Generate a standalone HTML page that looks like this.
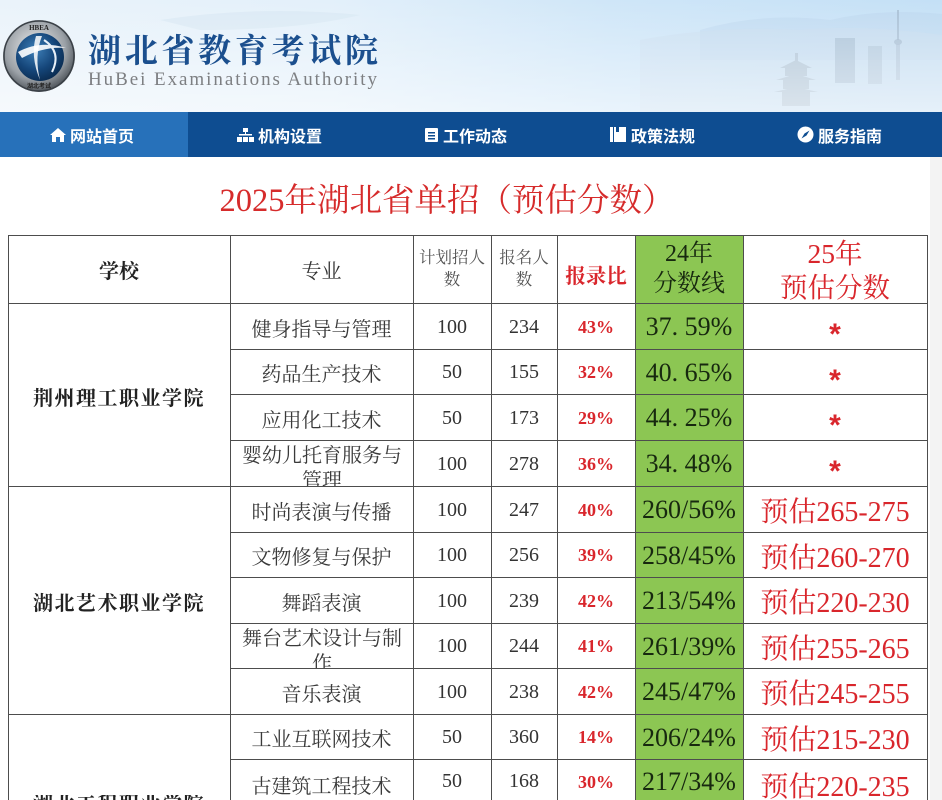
<!DOCTYPE html>
<html><head><meta charset="utf-8">
<style>
*{margin:0;padding:0;box-sizing:border-box}
html{width:942px;height:800px;overflow:hidden}
body{width:942px;height:800px;overflow:hidden;background:#fff;position:relative;font-family:"Liberation Serif","Noto Serif CJK SC",serif}
.hdr{position:absolute;left:0;top:0;width:942px;height:112px;background:linear-gradient(90deg,#eaf3fa 0%,#e3f0fa 35%,#cfe6f8 65%,#c4e0f6 100%)}
.nav{position:absolute;left:0;top:112px;width:942px;height:45px;background:#0e4d91}
.nav .t1{position:absolute;left:0;top:0;width:188px;height:45px;background:#2771ba}
.ni{position:absolute;top:0;height:45px;display:flex;align-items:center;color:#fff;font:bold 16px "Noto Sans CJK SC",sans-serif;letter-spacing:0px}
.ni svg{margin-right:4px}
.c{position:absolute;display:flex;align-items:center;justify-content:center;text-align:center;white-space:nowrap}
.vl{position:absolute;width:1px;background:#4d4d4d}
.hl{position:absolute;height:1px;background:#4d4d4d}
.maj{font-size:20px;color:#3a3a3a;font-family:"Liberation Serif","Noto Serif CJK SC",serif}
.num{font-size:20px;color:#333;font-family:"Liberation Serif",serif}
.pct{font-size:18px;color:#d9262c;font-weight:bold;font-family:"Liberation Serif",serif}
.g{font-size:26px;color:#17280f;font-family:"Liberation Serif",serif}
.est{font-size:28px;color:#d9262c;font-family:"Liberation Serif","Noto Serif CJK SC",serif}
.ast{font-size:30px;color:#d9262c;font-weight:bold;font-family:"Liberation Sans",sans-serif;position:relative;top:9px;line-height:30px}
.sch{font-size:20px;font-weight:bold;color:#222;letter-spacing:1.5px;font-family:"Liberation Serif","Noto Serif CJK SC",serif}
</style></head><body>

<div class="hdr">
<svg width="942" height="112" style="position:absolute;left:0;top:0">
<defs>
<linearGradient id="fade" x1="0" y1="0" x2="0" y2="1"><stop offset="0" stop-color="#fff" stop-opacity="0"/><stop offset="1" stop-color="#fff" stop-opacity="0.55"/></linearGradient>
<radialGradient id="ring" cx="0.45" cy="0.4" r="0.6"><stop offset="0" stop-color="#f2f2f2"/><stop offset="0.7" stop-color="#9aa0a6"/><stop offset="1" stop-color="#50565c"/></radialGradient>
<radialGradient id="glb" cx="0.4" cy="0.35" r="0.7"><stop offset="0" stop-color="#3d7fb8"/><stop offset="0.6" stop-color="#15467a"/><stop offset="1" stop-color="#0a2a4e"/></radialGradient>
</defs>
<path d="M160 20 Q260 5 360 15 Q300 30 200 30Z" fill="#d6e6f2" opacity="0.6"/>
<path d="M700 30 Q760 12 830 20 Q880 8 942 14 L942 60 L700 60Z" fill="#b8d3ea" opacity="0.45"/>
<path d="M640 40 Q720 25 800 30 Q860 24 942 35 L942 112 L640 112Z" fill="#c8dced" opacity="0.5"/>
<g fill="#a9bdcf" opacity="0.75">
<rect x="795" y="53" width="3" height="10"/>
<path d="M780 68 L796 60 L812 68Z"/>
<rect x="785" y="68" width="22" height="8"/>
<path d="M776 80 L796 74 L816 80Z"/>
<rect x="783" y="80" width="26" height="9"/>
<path d="M774 92 L796 87 L818 92Z"/>
<rect x="782" y="92" width="28" height="14"/>
</g>
<rect x="835" y="38" width="20" height="45" fill="#9fb6cc" opacity="0.6"/>
<rect x="868" y="46" width="14" height="38" fill="#a8bdd2" opacity="0.55"/>
<rect x="897" y="10" width="2" height="30" fill="#9fb6cc" opacity="0.7"/>
<ellipse cx="898" cy="42" rx="4" ry="3" fill="#9fb6cc" opacity="0.7"/>
<rect x="896" y="44" width="4" height="36" fill="#a8bdd2" opacity="0.6"/>
<rect x="0" y="0" width="942" height="112" fill="url(#fade)"/>
<circle cx="39" cy="56" r="36" fill="url(#ring)"/>
<circle cx="39" cy="56" r="35" fill="none" stroke="#3a4046" stroke-width="1.5"/>
<circle cx="40" cy="57" r="24" fill="url(#glb)"/>
<path d="M18 52 Q40 40 66 48 Q44 46 22 58Z" fill="#fff" opacity="0.9"/>
<path d="M36 36 Q30 56 40 80 Q34 56 42 36Z" fill="#fff" opacity="0.85"/>
<path d="M44 40 Q62 52 52 72" stroke="#e8f0f8" stroke-width="2" fill="none"/>
<text x="39" y="30" font-family="Liberation Serif" font-size="7" font-weight="bold" fill="#222" text-anchor="middle">HBEA</text>
<text x="39" y="88" font-family="Noto Sans CJK SC" font-size="6" font-weight="bold" fill="#222" text-anchor="middle">湖北考试</text>
<text x="88" y="62" font-family="Noto Serif CJK SC" font-size="33" font-weight="bold" fill="#1b4f8e" textLength="290" lengthAdjust="spacing">湖北省教育考试院</text>
<text x="88" y="85" font-family="Liberation Serif" font-size="19" fill="#7d7f82" textLength="289" lengthAdjust="spacing">HuBei Examinations Authority</text>
</svg>
</div>

<div class="nav">
<div class="t1"></div>
<div class="ni" style="left:50px"><svg width="16" height="16" viewBox="0 0 16 16"><path d="M8 1 L16 8 L14 8 L14 15 L10 15 L10 10 L6 10 L6 15 L2 15 L2 8 L0 8Z" fill="#fff"/></svg>网站首页</div>
<div class="ni" style="left:237px"><svg width="17" height="16" viewBox="0 0 17 16"><rect x="6" y="1" width="5" height="4" fill="#fff"/><rect x="8" y="5" width="1" height="3" fill="#fff"/><rect x="2" y="7" width="13" height="1.5" fill="#fff"/><rect x="0" y="10" width="5" height="5" fill="#fff"/><rect x="6" y="10" width="5" height="5" fill="#fff"/><rect x="12" y="10" width="5" height="5" fill="#fff"/></svg>机构设置</div>
<div class="ni" style="left:424px"><svg width="15" height="16" viewBox="0 0 15 16"><rect x="1" y="1" width="13" height="14" rx="1" fill="#fff"/><rect x="4" y="5" width="7" height="1.5" fill="#0e4d91"/><rect x="4" y="8" width="7" height="1.5" fill="#0e4d91"/><rect x="4" y="11" width="7" height="1.5" fill="#0e4d91"/></svg>工作动态</div>
<div class="ni" style="left:610px"><svg width="17" height="17" viewBox="0 0 17 17"><rect x="0" y="1" width="3" height="15" fill="#fff"/><rect x="4" y="1" width="12" height="15" fill="#fff"/><rect x="6" y="1" width="3" height="5" fill="#0e4d91"/></svg>政策法规</div>
<div class="ni" style="left:797px"><svg width="17" height="17" viewBox="0 0 17 17"><circle cx="8.5" cy="8.5" r="8" fill="#fff"/><path d="M12.5 4.5 L9.5 9.5 L4.5 12.5 L7.5 7.5Z" fill="#0e4d91"/></svg>服务指南</div>
</div>

<div style="position:absolute;left:930px;top:157px;width:12px;height:643px;background:#f3f3f3"></div>

<div class="c" style="left:6px;top:177px;width:882px;height:42px;font-size:32.5px;color:#d62b2b;font-family:'Liberation Serif','Noto Serif CJK SC',serif">2025年湖北省单招（预估分数）</div>

<div style="position:absolute;left:635px;top:235px;width:108px;height:565px;background:#8cc653"></div>

<div class="hl" style="left:8px;top:235px;width:920px"></div>
<div class="hl" style="left:8px;top:303px;width:920px"></div>
<div class="hl" style="left:230px;top:349px;width:698px"></div>
<div class="hl" style="left:230px;top:394px;width:698px"></div>
<div class="hl" style="left:230px;top:440px;width:698px"></div>
<div class="hl" style="left:8px;top:486px;width:920px"></div>
<div class="hl" style="left:230px;top:532px;width:698px"></div>
<div class="hl" style="left:230px;top:577px;width:698px"></div>
<div class="hl" style="left:230px;top:623px;width:698px"></div>
<div class="hl" style="left:230px;top:668px;width:698px"></div>
<div class="hl" style="left:8px;top:714px;width:920px"></div>
<div class="hl" style="left:230px;top:759px;width:698px"></div>

<div class="vl" style="left:8px;top:235px;height:565px"></div>
<div class="vl" style="left:230px;top:235px;height:565px"></div>
<div class="vl" style="left:413px;top:235px;height:565px"></div>
<div class="vl" style="left:491px;top:235px;height:565px"></div>
<div class="vl" style="left:557px;top:235px;height:565px"></div>
<div class="vl" style="left:635px;top:235px;height:565px"></div>
<div class="vl" style="left:743px;top:235px;height:565px"></div>
<div class="vl" style="left:927px;top:235px;height:565px"></div>

<div class="c" style="left:8px;top:235px;width:222px;height:68px;font-size:20px;font-weight:bold;color:#222;font-family:'Liberation Serif','Noto Serif CJK SC',serif">学校</div>
<div class="c" style="left:230px;top:235px;width:183px;height:68px;font-size:20px;color:#333;font-family:'Liberation Serif','Noto Serif CJK SC',serif">专业</div>
<div class="c" style="left:413px;top:235px;width:78px;height:68px;font-size:16.5px;color:#555;line-height:22px;white-space:normal;font-family:'Liberation Serif','Noto Serif CJK SC',serif">计划招人<br>数</div>
<div class="c" style="left:491px;top:235px;width:66px;height:68px;font-size:16.5px;color:#555;line-height:22px;white-space:normal;font-family:'Liberation Serif','Noto Serif CJK SC',serif">报名人<br>数</div>
<div class="c" style="left:557px;top:240px;width:78px;height:68px;font-size:20.5px;font-weight:bold;color:#d9262c;font-family:'Liberation Serif','Noto Serif CJK SC',serif">报录比</div>
<div class="c" style="left:635px;top:235px;width:108px;height:68px;font-size:24px;color:#17280f;line-height:30px;white-space:normal;font-family:'Liberation Serif','Noto Serif CJK SC',serif">24年<br>分数线</div>
<div class="c" style="left:743px;top:237px;width:184px;height:68px;font-size:27.5px;color:#d9262c;line-height:34px;white-space:normal;font-family:'Liberation Serif','Noto Serif CJK SC',serif">25年<br>预估分数</div>

<div class="c sch" style="left:8px;top:303px;width:222px;height:186px">荆州理工职业学院</div>
<div class="c sch" style="left:8px;top:486px;width:222px;height:230px">湖北艺术职业学院</div>
<div class="sch" style="position:absolute;left:8px;top:795px;width:222px;height:5px;overflow:hidden;line-height:20px;text-align:center;white-space:nowrap">湖北工程职业学院</div>

<div class="c maj" style="left:230px;top:303px;width:183px;height:48px">健身指导与管理</div>
<div class="c num" style="left:413px;top:303px;width:78px;height:48px">100</div>
<div class="c num" style="left:491px;top:303px;width:66px;height:48px">234</div>
<div class="c pct" style="left:557px;top:303px;width:78px;height:48px">43%</div>
<div class="c g" style="left:635px;top:303px;width:108px;height:48px">37. 59%</div>
<div class="c" style="left:743px;top:303px;width:184px;height:46px"><span class="ast">*</span></div>

<div class="c maj" style="left:230px;top:349px;width:183px;height:47px">药品生产技术</div>
<div class="c num" style="left:413px;top:349px;width:78px;height:47px">50</div>
<div class="c num" style="left:491px;top:349px;width:66px;height:47px">155</div>
<div class="c pct" style="left:557px;top:349px;width:78px;height:47px">32%</div>
<div class="c g" style="left:635px;top:349px;width:108px;height:47px">40. 65%</div>
<div class="c" style="left:743px;top:349px;width:184px;height:45px"><span class="ast">*</span></div>

<div class="c maj" style="left:230px;top:394px;width:183px;height:48px">应用化工技术</div>
<div class="c num" style="left:413px;top:394px;width:78px;height:48px">50</div>
<div class="c num" style="left:491px;top:394px;width:66px;height:48px">173</div>
<div class="c pct" style="left:557px;top:394px;width:78px;height:48px">29%</div>
<div class="c g" style="left:635px;top:394px;width:108px;height:48px">44. 25%</div>
<div class="c" style="left:743px;top:394px;width:184px;height:46px"><span class="ast">*</span></div>

<div style="position:absolute;left:236px;top:441px;width:172px;height:45px;overflow:hidden;font-size:20px;line-height:25px;color:#3a3a3a;text-align:center;padding-top:3px;font-family:'Liberation Serif','Noto Serif CJK SC',serif">婴幼儿托育服务与管理</div>
<div class="c num" style="left:413px;top:440px;width:78px;height:48px">100</div>
<div class="c num" style="left:491px;top:440px;width:66px;height:48px">278</div>
<div class="c pct" style="left:557px;top:440px;width:78px;height:48px">36%</div>
<div class="c g" style="left:635px;top:440px;width:108px;height:48px">34. 48%</div>
<div class="c" style="left:743px;top:440px;width:184px;height:46px"><span class="ast">*</span></div>

<div class="c maj" style="left:230px;top:486px;width:183px;height:48px">时尚表演与传播</div>
<div class="c num" style="left:413px;top:486px;width:78px;height:48px">100</div>
<div class="c num" style="left:491px;top:486px;width:66px;height:48px">247</div>
<div class="c pct" style="left:557px;top:486px;width:78px;height:48px">40%</div>
<div class="c g" style="left:635px;top:486px;width:108px;height:48px">260/56%</div>
<div class="c est" style="left:743px;top:486px;width:184px;height:48px">预估265-275</div>

<div class="c maj" style="left:230px;top:532px;width:183px;height:47px">文物修复与保护</div>
<div class="c num" style="left:413px;top:532px;width:78px;height:47px">100</div>
<div class="c num" style="left:491px;top:532px;width:66px;height:47px">256</div>
<div class="c pct" style="left:557px;top:532px;width:78px;height:47px">39%</div>
<div class="c g" style="left:635px;top:532px;width:108px;height:47px">258/45%</div>
<div class="c est" style="left:743px;top:532px;width:184px;height:47px">预估260-270</div>

<div class="c maj" style="left:230px;top:577px;width:183px;height:48px">舞蹈表演</div>
<div class="c num" style="left:413px;top:577px;width:78px;height:48px">100</div>
<div class="c num" style="left:491px;top:577px;width:66px;height:48px">239</div>
<div class="c pct" style="left:557px;top:577px;width:78px;height:48px">42%</div>
<div class="c g" style="left:635px;top:577px;width:108px;height:48px">213/54%</div>
<div class="c est" style="left:743px;top:577px;width:184px;height:48px">预估220-230</div>

<div style="position:absolute;left:236px;top:624px;width:172px;height:44px;overflow:hidden;font-size:20px;line-height:25px;color:#3a3a3a;text-align:center;padding-top:3px;font-family:'Liberation Serif','Noto Serif CJK SC',serif">舞台艺术设计与制作</div>
<div class="c num" style="left:413px;top:623px;width:78px;height:47px">100</div>
<div class="c num" style="left:491px;top:623px;width:66px;height:47px">244</div>
<div class="c pct" style="left:557px;top:623px;width:78px;height:47px">41%</div>
<div class="c g" style="left:635px;top:623px;width:108px;height:47px">261/39%</div>
<div class="c est" style="left:743px;top:623px;width:184px;height:47px">预估255-265</div>

<div class="c maj" style="left:230px;top:668px;width:183px;height:48px">音乐表演</div>
<div class="c num" style="left:413px;top:668px;width:78px;height:48px">100</div>
<div class="c num" style="left:491px;top:668px;width:66px;height:48px">238</div>
<div class="c pct" style="left:557px;top:668px;width:78px;height:48px">42%</div>
<div class="c g" style="left:635px;top:668px;width:108px;height:48px">245/47%</div>
<div class="c est" style="left:743px;top:668px;width:184px;height:48px">预估245-255</div>

<div class="c maj" style="left:230px;top:714px;width:183px;height:47px">工业互联网技术</div>
<div class="c num" style="left:413px;top:714px;width:78px;height:47px">50</div>
<div class="c num" style="left:491px;top:714px;width:66px;height:47px">360</div>
<div class="c pct" style="left:557px;top:714px;width:78px;height:47px">14%</div>
<div class="c g" style="left:635px;top:714px;width:108px;height:47px">206/24%</div>
<div class="c est" style="left:743px;top:714px;width:184px;height:47px">预估215-230</div>

<div class="c maj" style="left:230px;top:759px;width:183px;height:41px;align-items:flex-start;padding-top:11px">古建筑工程技术</div>
<div class="c num" style="left:413px;top:759px;width:78px;height:41px;align-items:flex-start;padding-top:11px">50</div>
<div class="c num" style="left:491px;top:759px;width:66px;height:41px;align-items:flex-start;padding-top:11px">168</div>
<div class="c pct" style="left:557px;top:759px;width:78px;height:41px;align-items:flex-start;padding-top:13px">30%</div>
<div class="c g" style="left:635px;top:759px;width:108px;height:41px;align-items:flex-start;padding-top:8px">217/34%</div>
<div class="c est" style="left:743px;top:759px;width:184px;height:41px;align-items:flex-start;padding-top:6px">预估220-235</div>

</body></html>
